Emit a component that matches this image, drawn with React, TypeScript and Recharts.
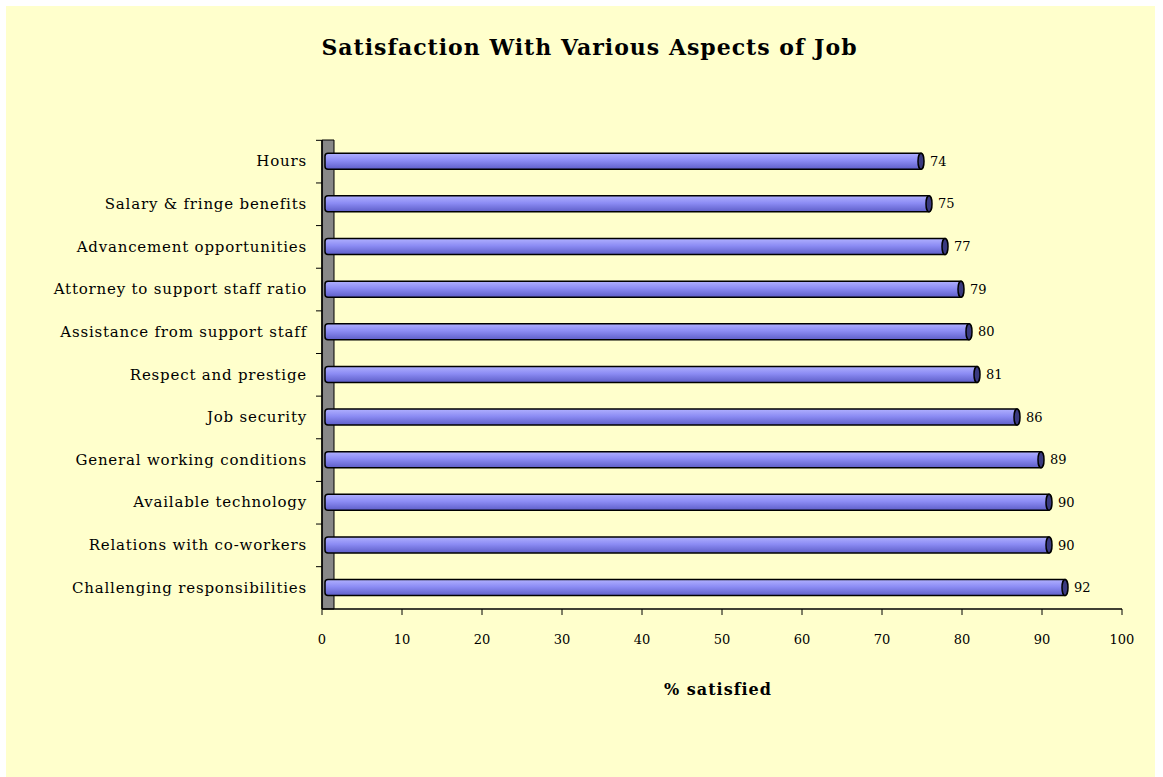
import { BarChart, Bar, XAxis, YAxis, LabelList, ReferenceArea } from 'recharts';

const aspects = [
  'Hours',
  'Salary & fringe benefits',
  'Advancement opportunities',
  'Attorney to support staff ratio',
  'Assistance from support staff',
  'Respect and prestige',
  'Job security',
  'General working conditions',
  'Available technology',
  'Relations with co-workers',
  'Challenging responsibilities',
];
const satisfied = [74, 75, 77, 79, 80, 81, 86, 89, 90, 90, 92];
const xTicks = [0, 10, 20, 30, 40, 50, 60, 70, 80, 90, 100];

const data = aspects.map((name, i) => ({ name, value: satisfied[i] }));

const FONT = '"DejaVu Serif", "Liberation Serif", serif';

// cylinder-ish bar, nudged right a little for the 3d wall
function TubeBar(props: any) {
  const { x, y, width, height } = props;
  const x0 = x + 3;
  const x1 = x + width + 7;
  const r = 3;
  return (
    <g>
      <path
        d={`M${x0 + r},${y} L${x1},${y} L${x1},${y + height} L${x0 + r},${y + height} Q${x0},${y + height} ${x0},${y + height - r} L${x0},${y + r} Q${x0},${y} ${x0 + r},${y} Z`}
        fill="url(#tube)"
        stroke="#000"
        strokeWidth={1.5}
      />
      <ellipse cx={x1} cy={y + height / 2} rx={3} ry={height / 2} fill="#3a3a80" stroke="#000" strokeWidth={1.5} />
    </g>
  );
}

// category label with its tick mark on the band edge (like the old excel look)
function CatTick(props: any) {
  const { x, y, payload } = props;
  return (
    <g>
      <line x1={x + 10} x2={x + 16} y1={y - 21} y2={y - 21} stroke="#000" />
      <text
        x={x + 1}
        y={y}
        dy={5}
        textAnchor="end"
        fontFamily={FONT}
        fontSize={15}
        letterSpacing={0.8}
        fill="#000"
      >
        {payload.value}
      </text>
    </g>
  );
}

export default function App() {
  return (
    <div style={{ position: 'absolute', left: 0, top: 0, width: 1163, height: 777, background: '#fff' }}>
      <div style={{ position: 'absolute', left: 6, top: 6, width: 1149, height: 771, background: '#FFFFCC' }} />
      <div
        style={{
          position: 'absolute',
          left: 0,
          top: 34,
          width: 1163,
          textAlign: 'center',
          fontFamily: FONT,
          fontWeight: 'bold',
          fontSize: 22,
          letterSpacing: 1,
          color: '#000',
          paddingLeft: 8,
        }}
      >
        Satisfaction With Various Aspects of Job
      </div>
      <div style={{ position: 'absolute', left: 0, top: 0 }}>
        <BarChart
          width={1163}
          height={777}
          data={data}
          layout="vertical"
          margin={{ top: 140, right: 41, left: 6, bottom: 138 }}
          barCategoryGap="31%"
        >
          <defs>
            <linearGradient id="tube" x1="0" y1="0" x2="0" y2="1">
              <stop offset="0%" stopColor="#b0b0ff" />
              <stop offset="45%" stopColor="#8c8cf4" />
              <stop offset="100%" stopColor="#5e5ec8" />
            </linearGradient>
          </defs>
          <ReferenceArea x1={0} x2={1.5} fill="#888" fillOpacity={1} stroke="#000" strokeWidth={1} />
          <XAxis
            type="number"
            domain={[0, 100]}
            ticks={xTicks}
            tick={{ fontSize: 13, fill: '#000', fontFamily: FONT }}
            tickLine={{ stroke: '#000' }}
            axisLine={{ stroke: '#000', strokeWidth: 1.5 }}
            tickSize={6}
            tickMargin={20}
            height={30}
            label={{
              value: '% satisfied',
              position: 'insideBottom',
              offset: -56,
              fontFamily: FONT,
              fontWeight: 'bold',
              fontSize: 16,
              letterSpacing: 1,
              fill: '#000',
              dx: -4,
            }}
          />
          <YAxis
            type="category"
            dataKey="name"
            width={316}
            tick={<CatTick />}
            tickLine={false}
            axisLine={{ stroke: '#000', strokeWidth: 1.5 }}
            tickSize={6}
            tickMargin={10}
            interval={0}
          />
          <Bar dataKey="value" shape={<TubeBar />} isAnimationActive={false}>
            <LabelList
              dataKey="value"
              position="right"
              offset={16}
              style={{ fontSize: 13, fill: '#000', fontFamily: FONT }}
            />
          </Bar>
        </BarChart>
      </div>
    </div>
  );
}
